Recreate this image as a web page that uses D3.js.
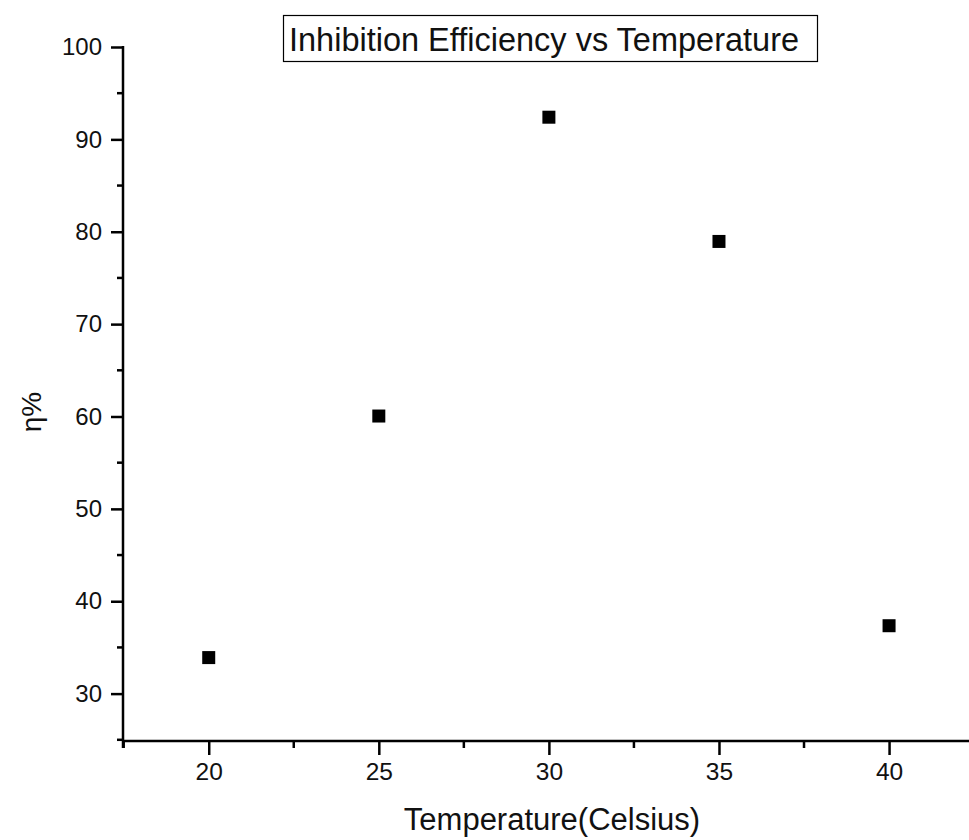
<!DOCTYPE html>
<html>
<head>
<meta charset="utf-8">
<script src="https://cdn.jsdelivr.net/npm/d3@7"></script>
<style>
  body { margin:0; background:#fff; }
  svg { display:block; font-family: "Liberation Sans", Arial, sans-serif; }
</style>
</head>
<body>
<div id="chart"></div>
<script>
// data
var temps = [20, 25, 30, 35, 40];
var eff = [33.9, 60.05, 92.4, 78.95, 37.35];
var xTicks = [20, 25, 30, 35, 40];
var yTicks = [30, 40, 50, 60, 70, 80, 90, 100];

var W = 969, H = 840;
var mLeft = 123, mTop = 47, mBottom = 741;

var svg = d3.select("#chart").append("svg").attr("width", W).attr("height", H);

var x = d3.scaleLinear().domain([17.48, 42.35]).range([mLeft, 969]);
var y = d3.scaleLinear().domain([24.87, 100]).range([mBottom, mTop]);

// minor ticks
var xMinor = [];
for (var v = 17.5; v <= 42.5; v += 2.5) if (xTicks.indexOf(v) == -1) xMinor.push(v);
var yMinor = [];
for (var v = 25; v <= 100; v += 5) if (yTicks.indexOf(v) == -1) yMinor.push(v);

var xAxis = svg.append("g").attr("transform", "translate(0," + mBottom + ")")
  .call(d3.axisBottom(x).tickValues(xTicks).tickSize(14).tickPadding(8).tickFormat(d3.format("d")));
xAxis.attr("font-family", null).attr("font-size", null);
xAxis.select(".domain").attr("d", "M" + (mLeft - 1) + ",0H" + (W + 5)).attr("stroke-width", 2.5);
xAxis.selectAll(".tick line").attr("stroke-width", 2.5);
xAxis.selectAll("text").style("font-size", "24.5px").attr("fill", "#111");
xAxis.selectAll(".minor").data(xMinor).enter().append("line")
  .attr("x1", function(d) { return x(d); }).attr("x2", function(d) { return x(d); })
  .attr("y1", 0).attr("y2", 7).attr("stroke", "#000").attr("stroke-width", 2.5);

var yAxis = svg.append("g").attr("transform", "translate(" + mLeft + ",0)")
  .call(d3.axisLeft(y).tickValues(yTicks).tickSize(12).tickPadding(9).tickFormat(d3.format("d")));
yAxis.attr("font-family", null).attr("font-size", null);
yAxis.select(".domain").attr("d", "M0," + (mTop - 1) + "V" + (mBottom + 7)).attr("stroke-width", 2.5);
yAxis.selectAll(".tick line").attr("stroke-width", 2.5);
yAxis.selectAll("text").style("font-size", "24px").attr("fill", "#111");
yAxis.selectAll(".minor").data(yMinor).enter().append("line")
  .attr("y1", function(d) { return y(d); }).attr("y2", function(d) { return y(d); })
  .attr("x1", 0).attr("x2", -6).attr("stroke", "#000").attr("stroke-width", 2.5);

// points
var sz = 13;
svg.append("g").selectAll("rect").data(temps).enter().append("rect")
  .attr("x", function(d) { return x(d) - sz / 2; })
  .attr("y", function(d, i) { return y(eff[i]) - sz / 2; })
  .attr("width", sz).attr("height", sz)
  .attr("fill", "#000");

// axis titles
svg.append("text").attr("x", 552).attr("y", 830).attr("text-anchor", "middle")
  .attr("font-size", 31).attr("fill", "#111").text("Temperature(Celsius)");

svg.append("text").attr("transform", "translate(41,412) rotate(-90)").attr("text-anchor", "middle")
  .attr("font-size", 28).attr("fill", "#111").text("η%");

// title box
svg.append("rect").attr("x", 283.5).attr("y", 15.5).attr("width", 534).attr("height", 46)
  .attr("fill", "#fff").attr("stroke", "#000").attr("stroke-width", 1.2);
svg.append("text").attr("x", 289).attr("y", 51)
  .attr("font-size", 32.5).attr("fill", "#111").text("Inhibition Efficiency vs Temperature");
</script>
</body>
</html>
